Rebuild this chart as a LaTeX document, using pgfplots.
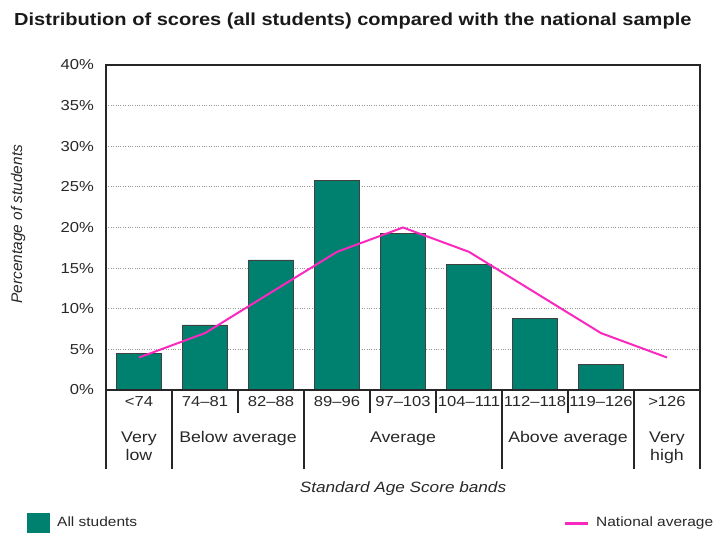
\documentclass[border=0pt]{standalone}
\usepackage{fontspec}
\setmainfont{Liberation Sans}[FakeStretch=1.15]
\newfontfamily\plainsf{Liberation Sans}
\usepackage{pgfplots}
\pgfplotsset{compat=1.18}
\definecolor{barteal}{RGB}{0,128,110}
\definecolor{natpink}{RGB}{250,40,190}
\definecolor{txt}{RGB}{40,40,40}
\begin{document}
\begin{tikzpicture}[x=1bp,y=1bp]
\path[use as bounding box] (0,0) rectangle (713,556);
\node[anchor=base west, inner sep=0pt, font=\fontsize{17.5}{20}\selectfont\bfseries, text=black!90] at (14,530) {Distribution of scores (all students) compared with the national sample};
\begin{axis}[
  at={(106bp,166bp)}, anchor=south west, scale only axis,
  width=594bp, height=325bp,
  xmin=-0.5, xmax=8.5, ymin=0, ymax=40,
  xtick={0,...,8},
  xticklabels={<74,74–81,82–88,89–96,97–103,104–111,112–118,119–126,>126},
  xticklabel style={font=\fontsize{14.5}{16}\selectfont, text=txt, anchor=base, inner sep=0pt, yshift=-17bp},
  ytick={0,5,...,40},
  yticklabel={\pgfmathprintnumber{\tick}\%},
  /pgf/number format/assume math mode=true,
  yticklabel style={font=\fontsize{14.5}{16}\selectfont, text=txt, inner sep=0pt, xshift=-12bp},
  major tick length=0pt,
  ymajorgrids, grid style={dotted, black!40, line width=0.9bp},
  axis line style={line width=1.4bp, black!85},
  clip=false,
  ylabel={Percentage of students},
  ylabel style={font=\plainsf\itshape\fontsize{15.5}{17}\selectfont, text=txt, at={(axis description cs:-0.1481,0.51)}, anchor=center, inner sep=0pt},
  xlabel={Standard Age Score bands},
  xlabel style={font=\itshape\fontsize{15}{17}\selectfont, text=txt, at={(axis description cs:0.5,0)}, anchor=base, inner sep=0pt, yshift=-103bp},
]
\addplot[ybar, bar width=0.68, fill=barteal, draw=black!75, line width=0.8bp]
  coordinates {(0,4.5) (1,8.0) (2,16.0) (3,25.8) (4,19.3) (5,15.5) (6,8.8) (7,3.1)};
\addplot[natpink, line width=2bp, mark=none]
  coordinates {(0,4) (1,7) (2,12) (3,17) (4,20) (5,17) (6,12) (7,7) (8,4)};
\draw[line width=2bp, black!85] (axis cs:-0.5,0) -- (axis cs:8.5,0);
\pgfplotsinvokeforeach{-0.5,0.5,2.5,5.5,7.5,8.5}{
  \draw[line width=1.4bp, black!85] (axis cs:#1,0) -- (axis cs:#1,-9.72);
}
\pgfplotsinvokeforeach{1.5,3.5,4.5,6.5}{
  \draw[line width=1.4bp, black!85] (axis cs:#1,0) -- (axis cs:#1,-2.83);
}
\begin{scope}[every node/.style={anchor=base, inner sep=0pt, font=\fontsize{15.5}{17}\selectfont, text=txt}]
\node at (axis cs:0,-6.52) {Very};
\node at (axis cs:0,-8.62) {low};
\node at (axis cs:1.5,-6.52) {Below average};
\node at (axis cs:4,-6.52) {Average};
\node at (axis cs:6.5,-6.52) {Above average};
\node at (axis cs:8,-6.52) {Very};
\node at (axis cs:8,-8.62) {high};
\end{scope}
\end{axis}
\fill[barteal] (27,23.3) rectangle (50,42.7);
\node[anchor=base west, inner sep=0pt, font=\fontsize{13.5}{15}\selectfont, text=txt] at (57,29.3) {All students};
\draw[natpink, line width=3bp] (565,32.7) -- (588,32.7);
\node[anchor=base west, inner sep=0pt, font=\fontsize{13.5}{15}\selectfont, text=txt] at (596,29.3) {National average};
\end{tikzpicture}
\end{document}
